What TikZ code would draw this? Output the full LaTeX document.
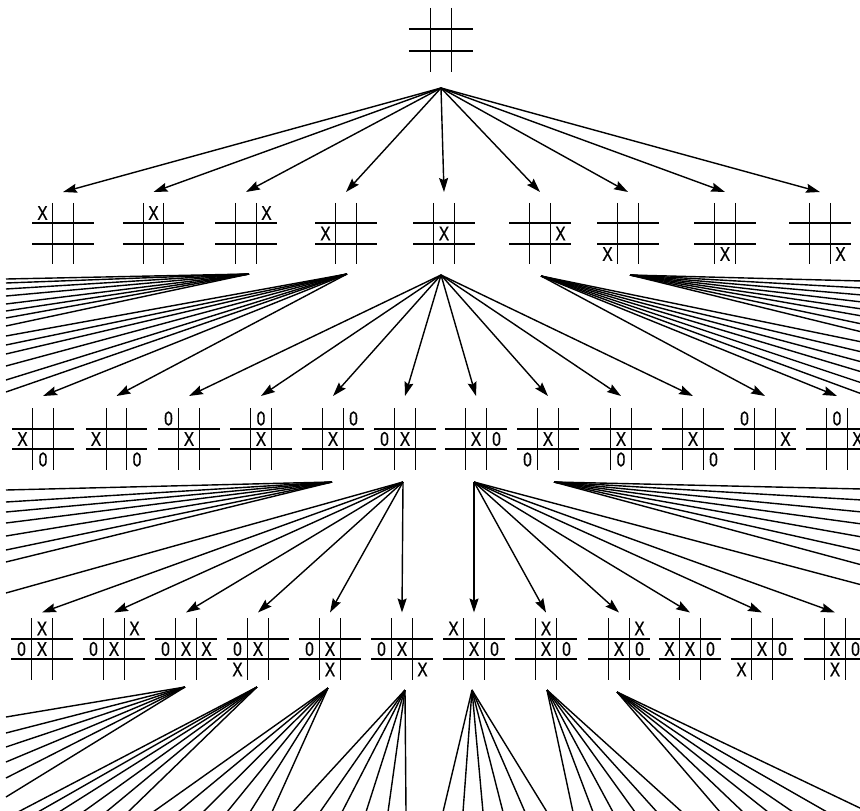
\documentclass[tikz,border=0pt]{standalone}
\usepackage{fontspec}
\newfontfamily\markfont[FakeStretch=0.78,FakeBold=0.6]{Liberation Sans}
\usetikzlibrary{arrows.meta,calc}
\tikzset{
  vline/.style={line width=1.4pt},
  hline/.style={line width=2pt},
  mk/.style={inner sep=0pt, outer sep=0pt, font=\markfont\fontsize{20}{20}\selectfont},
  bd/.style={inner sep=0pt, outer sep=0pt, minimum width=62pt, minimum height=#1},
  arr/.style={line width=1.4pt, -{Stealth[length=14pt,width=9pt,inset=2pt]}},
  fan/.style={line width=1.4pt},
}
\newcommand\tttgrid[2]{%
  \draw[vline] ($(#1.center)+(-0.5*#2,-1.5*#2)$) -- ($(#1.center)+(-0.5*#2,1.5*#2)$);
  \draw[vline] ($(#1.center)+(0.5*#2,-1.5*#2)$) -- ($(#1.center)+(0.5*#2,1.5*#2)$);
  \draw[hline] ($(#1.center)+(-1.5*#2,-0.5*#2)$) -- ($(#1.center)+(1.5*#2,-0.5*#2)$);
  \draw[hline] ($(#1.center)+(-1.5*#2,0.5*#2)$) -- ($(#1.center)+(1.5*#2,0.5*#2)$);
}
\newcommand\tttboard[5]{%
  \node[bd=#4] (#1) at (#2,#3) {};
  \tttgrid{#1}{20.5}
  \foreach \c/\r/\s [count=\k] in {#5} {\node[mk] (#1m\k) at ($(#1.center)+(\c*20.5,\r*20.5)$) {\s};}
}
\begin{document}
\begin{tikzpicture}[x=1pt,y=-1pt]
\useasboundingbox (0,0) rectangle (860,811);
\fill[white] (0,0) rectangle (860,811);
\clip (0,0) rectangle (860,811);

% root
\node[bd=65pt] (r) at (441,40) {};
\tttgrid{r}{21.5}
\coordinate (s0) at (441,88);

% level 1
\tttboard{a1}{63}{233.5}{83pt}{-1/-1/X}
\tttboard{a2}{153.5}{233.5}{83pt}{0/-1/X}
\tttboard{a3}{246}{233.5}{83pt}{1/-1/X}
\tttboard{a4}{346}{233.5}{83pt}{-1/0/X}
\tttboard{a5}{444}{233.5}{83pt}{0/0/X}
\tttboard{a6}{540}{233.5}{83pt}{1/0/X}
\tttboard{a7}{628}{233.5}{83pt}{-1/1/X}
\tttboard{a8}{725}{233.5}{83pt}{0/1/X}
\tttboard{a9}{820}{233.5}{83pt}{1/1/X}
\foreach \i in {1,...,9} \draw[arr] (s0) -- (a\i.north);

% level 1 fan sources
\coordinate (s3) at (249,274);
\coordinate (s4) at (347,274);
\coordinate (s5) at (441,275);
\coordinate (s6) at (541,276);
\coordinate (s7) at (630,275);

% level 2
\tttboard{b1}{43}{439}{86pt}{-1/0/X,0/1/0}
\tttboard{b2}{116.5}{439}{86pt}{-1/0/X,1/1/0}
\tttboard{b3}{189}{439}{86pt}{-1/-1/0,0/0/X}
\tttboard{b4}{261}{439}{86pt}{0/-1/0,0/0/X}
\tttboard{b5}{333}{439}{86pt}{1/-1/0,0/0/X}
\tttboard{b6}{405}{439}{86pt}{-1/0/0,0/0/X}
\tttboard{b7}{476}{439}{86pt}{0/0/X,1/0/0}
\tttboard{b8}{548}{439}{86pt}{0/0/X,-1/1/0}
\tttboard{b9}{621}{439}{86pt}{0/0/X,0/1/0}
\tttboard{b10}{693}{439}{86pt}{0/0/X,1/1/0}
\tttboard{b11}{765}{439}{86pt}{-1/-1/0,1/0/X}
\tttboard{b12}{837}{439}{86pt}{0/-1/0,1/0/X}

\foreach \i in {1,2} \draw[arr] (s4) -- (b\i.north);
\foreach \i in {3,...,10} \draw[arr] (s5) -- (b\i.north);
\foreach \i in {11,12} \draw[arr] (s6) -- (b\i.north);

\foreach \y [count=\k] in {279,283,289,296,304,311,318,326}
  {\coordinate (ea\k) at (6,\y); \draw[fan] (s3) -- (ea\k);}
\foreach \y [count=\k] in {336,345,354,366,380,392}
  {\coordinate (eb\k) at (6,\y); \draw[fan] (s4) -- (eb\k);}
\foreach \y [count=\k] in {342,352,362,372,383,394}
  {\coordinate (ed\k) at (862,\y); \draw[fan] (s6) -- (ed\k);}
\foreach \y [count=\k] in {281,288,295,302,309,316,324,332}
  {\coordinate (ee\k) at (862,\y); \draw[fan] (s7) -- (ee\k);}

% level 2 fan sources
\coordinate (t5) at (332,482);
\coordinate (t6) at (403,482);
\coordinate (t7) at (474,482);
\coordinate (t8) at (554,482);

% level 3
\tttboard{c1}{42}{649}{73pt}{0/-1/X,-1/0/0,0/0/X}
\tttboard{c2}{114}{649}{73pt}{1/-1/X,-1/0/0,0/0/X}
\tttboard{c3}{186}{649}{73pt}{-1/0/0,0/0/X,1/0/X}
\tttboard{c4}{258}{649}{73pt}{-1/0/0,0/0/X,-1/1/X}
\tttboard{c5}{330}{649}{73pt}{-1/0/0,0/0/X,0/1/X}
\tttboard{c6}{402}{649}{73pt}{-1/0/0,0/0/X,1/1/X}
\tttboard{c7}{474}{649}{73pt}{-1/-1/X,0/0/X,1/0/0}
\tttboard{c8}{546}{649}{73pt}{0/-1/X,0/0/X,1/0/0}
\tttboard{c9}{619}{649}{73pt}{1/-1/X,0/0/X,1/0/0}
\tttboard{c10}{690}{649}{73pt}{-1/0/X,0/0/X,1/0/0}
\tttboard{c11}{762}{649}{73pt}{0/0/X,1/0/0,-1/1/X}
\tttboard{c12}{835}{649}{73pt}{0/0/X,1/0/0,0/1/X}

\foreach \i in {1,...,6} \draw[arr] (t6) -- (c\i.north);
\foreach \i in {7,...,12} \draw[arr] (t7) -- (c\i.north);

\foreach \y [count=\k] in {490,502,512,523,536,550,562}
  {\coordinate (ef\k) at (6,\y); \draw[fan] (t5) -- (ef\k);}
\coordinate (eg1) at (6,593); \draw[fan] (t6) -- (eg1);
\coordinate (eh1) at (862,585); \draw[fan] (t7) -- (eh1);
\foreach \y [count=\k] in {489,500,512,524,537,551,565}
  {\coordinate (ei\k) at (862,\y); \draw[fan] (t8) -- (ei\k);}

% level 3 fan sources
\coordinate (u3) at (185,687);
\coordinate (u4) at (257,687);
\coordinate (u5) at (328,688);
\coordinate (u6) at (405,690);
\coordinate (u7) at (472,690);
\coordinate (u8) at (547,690);
\coordinate (u9) at (617,692);

\foreach \y [count=\k] in {717,733,747,762,778,797}
  {\coordinate (ej\k) at (6,\y); \draw[fan] (u3) -- (ej\k);}
\foreach \x [count=\k] in {18,38,59,83,106,128}
  {\coordinate (ek\k) at (\x,812); \draw[fan] (u4) -- (ek\k);}
\foreach \x [count=\k] in {153,178,203,227,250,272}
  {\coordinate (el\k) at (\x,812); \draw[fan] (u5) -- (el\k);}
\foreach \x [count=\k] in {293,320,342,366,388,406}
  {\coordinate (em\k) at (\x,812); \draw[fan] (u6) -- (em\k);}
\foreach \x [count=\k] in {443,463,483,503,525,547}
  {\coordinate (en\k) at (\x,812); \draw[fan] (u7) -- (en\k);}
\foreach \x [count=\k] in {573,593,613,635,657,682}
  {\coordinate (eo\k) at (\x,812); \draw[fan] (u8) -- (eo\k);}
\foreach \x [count=\k] in {720,743,768,793,827}
  {\coordinate (ep\k) at (\x,812); \draw[fan] (u9) -- (ep\k);}
\coordinate (ep6) at (862,809); \draw[fan] (u9) -- (ep6);
\end{tikzpicture}
\end{document}
